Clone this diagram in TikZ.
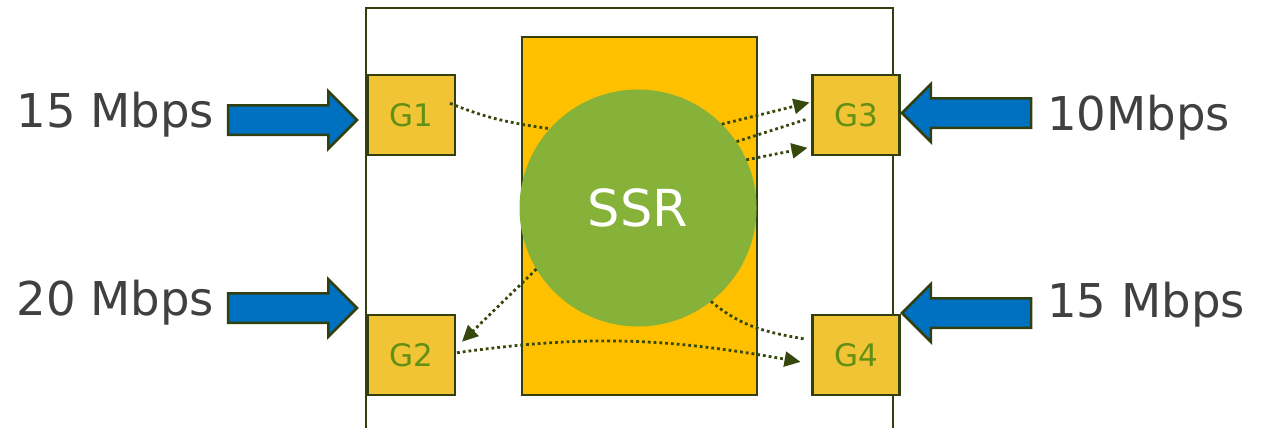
\documentclass[tikz,border=0pt]{standalone}
\usepackage{fontspec}
\setmainfont{DejaVu Sans}
\usetikzlibrary{arrows.meta}
\usetikzlibrary{shapes.arrows}
\definecolor{edgegreen}{RGB}{50,64,16}
\definecolor{dotgreen}{RGB}{55,72,12}
\definecolor{coreorange}{RGB}{255,192,0}
\definecolor{gwfill}{RGB}{240,196,52}
\definecolor{gwtext}{RGB}{98,144,20}
\definecolor{ssrgreen}{RGB}{135,178,58}
\definecolor{flowblue}{RGB}{0,112,192}
\definecolor{rategray}{RGB}{64,64,64}

\begin{document}
\begin{tikzpicture}[
     x=1pt,y=-1pt,
     gw/.style={rectangle,draw=edgegreen,line width=2.5pt,fill=gwfill,outer sep=0pt,
       minimum width=87pt,minimum height=80pt,inner sep=0pt,text=gwtext,
       font=\fontsize{31}{36}\selectfont},
     inflow/.style={single arrow,draw=edgegreen,line width=2.5pt,fill=flowblue,outer sep=0pt,
       inner xsep=0pt,inner ysep=13.5pt,minimum height=129pt,single arrow head extend=14pt,
       anchor=tip},
     rate/.style={text=rategray,font=\fontsize{46.6}{56}\selectfont,inner sep=0pt},
     flow/.style={draw=dotgreen,line width=2.8pt,dash pattern=on 2.8pt off 3pt},
     flowto/.style={flow,-{Triangle[length=16pt,width=15pt]}}
   ]
   \path[use as bounding box] (0,0) rectangle (1263,428);
   % Gateway frame and core.
   \node[draw=edgegreen,line width=2.5pt,outer sep=0pt,minimum width=527pt,minimum height=432pt,
     anchor=north west] (frame) at (366,8) {};
   \node[draw=edgegreen,line width=2.5pt,fill=coreorange,outer sep=0pt,
     minimum width=235pt,minimum height=358pt] (core) at (639.5,216) {};
   \node[circle,fill=ssrgreen,minimum size=237pt,inner sep=0pt,outer sep=0pt,text=white,
     font=\fontsize{51}{60}\selectfont] (ssr) at (638,208) {SSR};
   % Gateways.
   \node[gw] (G1) at (411.5,115) {G1};
   \node[gw] (G2) at (411.5,355) {G2};
   \node[gw] (G3) at (856,115) {G3};
   \node[gw] (G4) at (856,355) {G4};
   % Incoming traffic.
   \node[inflow] (in1) at (357,120) {};
   \node[inflow] (in2) at (357,308) {};
   \node[inflow,shape border rotate=180] (in3) at (902,113) {};
   \node[inflow,shape border rotate=180] (in4) at (902,313) {};
   \node[rate,anchor=base east] (rate1) at (214.5,127) {15 Mbps};
   \node[rate,anchor=base east] (rate2) at (214.5,315) {20 Mbps};
   \node[rate,anchor=base west] (rate3) at (1047,130) {10Mbps};
   \node[rate,anchor=base west] (rate4) at (1047,317) {15 Mbps};
   % Flows through the SSR.
   \draw[flow] ([xshift=-5pt]G1.15) to[out=-22,in=172] (ssr.138);
   \draw[flowto] (ssr.45) -- ([xshift=-3pt]G3.164);
   \draw[flow] ([xshift=-7pt]G3.186) -- (ssr.34);
   \draw[flowto] (ssr.24) -- ([xshift=-5pt]G3.217);
   \draw[flowto] (ssr.211) -- ([xshift=7pt]G2.17);
   \draw[flow] (ssr.-52) to[out=-40,in=170] ([xshift=-7pt]G4.160);
   \draw[flowto] ([xshift=2pt]G2.3) to[out=8,in=170] ([xshift=-12pt]G4.189);
\end{tikzpicture}
\end{document}
